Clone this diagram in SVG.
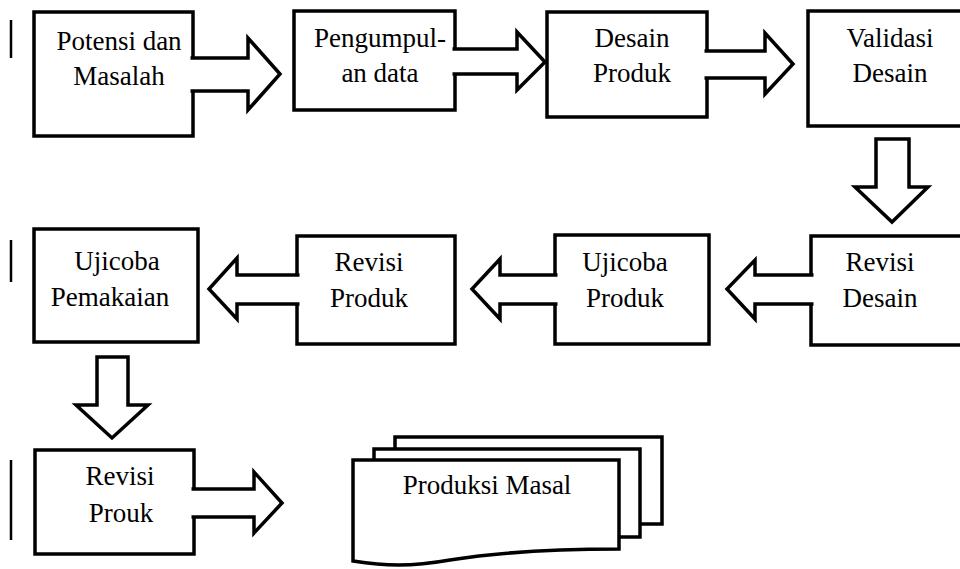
<svg xmlns="http://www.w3.org/2000/svg" width="960" height="569" viewBox="0 0 960 569">
<style>
.box{fill:#fff;stroke:#000;stroke-width:3.5}
.arr{fill:#fff;stroke:#000;stroke-width:3.5;stroke-linejoin:miter}
.bar{stroke:#000;stroke-width:2.5}
.t{font-size:27px;fill:#000;text-anchor:middle}
</style>
<rect width="960" height="569" fill="#fff"/>
<g id="bars">
<line class="bar" x1="11" y1="20" x2="11" y2="58"/>
<line class="bar" x1="11" y1="240" x2="11" y2="282"/>
<line class="bar" x1="11" y1="460" x2="11" y2="540"/>
</g>
<g font-family="Liberation Serif, DejaVu Serif, Times New Roman, Times, serif">
<g id="potensi"><rect class="box" x="34" y="12" width="159" height="124"/><text class="t" x="119" y="50">Potensi dan</text><text class="t" x="119" y="85">Masalah</text></g>
<g id="pengumpulan"><rect class="box" x="294" y="11" width="161" height="99"/><text class="t" x="380" y="47">Pengumpul-</text><text class="t" x="380" y="82">an data</text></g>
<g id="desain-produk"><rect class="box" x="547" y="12" width="160" height="105"/><text class="t" x="632" y="47">Desain</text><text class="t" x="632" y="82">Produk</text></g>
<g id="validasi"><rect class="box" x="808" y="11" width="160" height="115"/><text class="t" x="890" y="47">Validasi</text><text class="t" x="890" y="82">Desain</text></g>
<g id="revisi-desain"><rect class="box" x="811" y="236" width="160" height="109"/><text class="t" x="880" y="271">Revisi</text><text class="t" x="880" y="307">Desain</text></g>
<g id="ujicoba-produk"><rect class="box" x="555" y="235" width="154" height="109"/><text class="t" x="625" y="271">Ujicoba</text><text class="t" x="625" y="307">Produk</text></g>
<g id="revisi-produk"><rect class="box" x="297" y="236" width="158" height="108"/><text class="t" x="369" y="271">Revisi</text><text class="t" x="369" y="307">Produk</text></g>
<g id="ujicoba-pemakaian"><rect class="box" x="34" y="229" width="164" height="113"/><text class="t" x="117" y="270">Ujicoba</text><text class="t" x="110" y="306">Pemakaian</text></g>
<g id="revisi-prouk"><rect class="box" x="35" y="450" width="159" height="104"/><text class="t" x="120" y="485">Revisi</text><text class="t" x="121" y="522">Prouk</text></g>
<g id="produksi-masal">
<path class="box" d="M395,449 V437 H662 V524 H640"/>
<path class="box" d="M374,460 V449 H640 V537 H619"/>
<path class="box" d="M353,460 H619 V549 C560,549 500,552 450,560 C410,567 385,566 353,561 Z"/>
<text class="t" x="487" y="494">Produksi Masal</text>
</g>
</g>
<g id="connectors">
<path class="arr" d="M190.5,58 H248 V38 L280,74 L248,110 V91 H190.5"/>
<path class="arr" d="M452.5,49 H517 V32 L545,62 L517,90 V74 H452.5"/>
<path class="arr" d="M704.5,51 H765 V33 L793,64 L765,94 V78 H704.5"/>
<path class="arr" d="M876,139 H909 V187 H928 L892,222 L855,187 H876 Z"/>
<path class="arr" d="M813.5,275 H755 V260 L727,289 L755,319 V304 H813.5"/>
<path class="arr" d="M557.5,275 H500 V259 L472,289 L500,319 V304 H557.5"/>
<path class="arr" d="M299.5,275 H237 V258 L209,289 L237,319 V304 H299.5"/>
<path class="arr" d="M97,357 H128 V405 H148 L112,438 L76,405 H97 Z"/>
<path class="arr" d="M191.5,489 H254 V472 L282,503 L254,533 V517 H191.5"/>
</g>
</svg>
